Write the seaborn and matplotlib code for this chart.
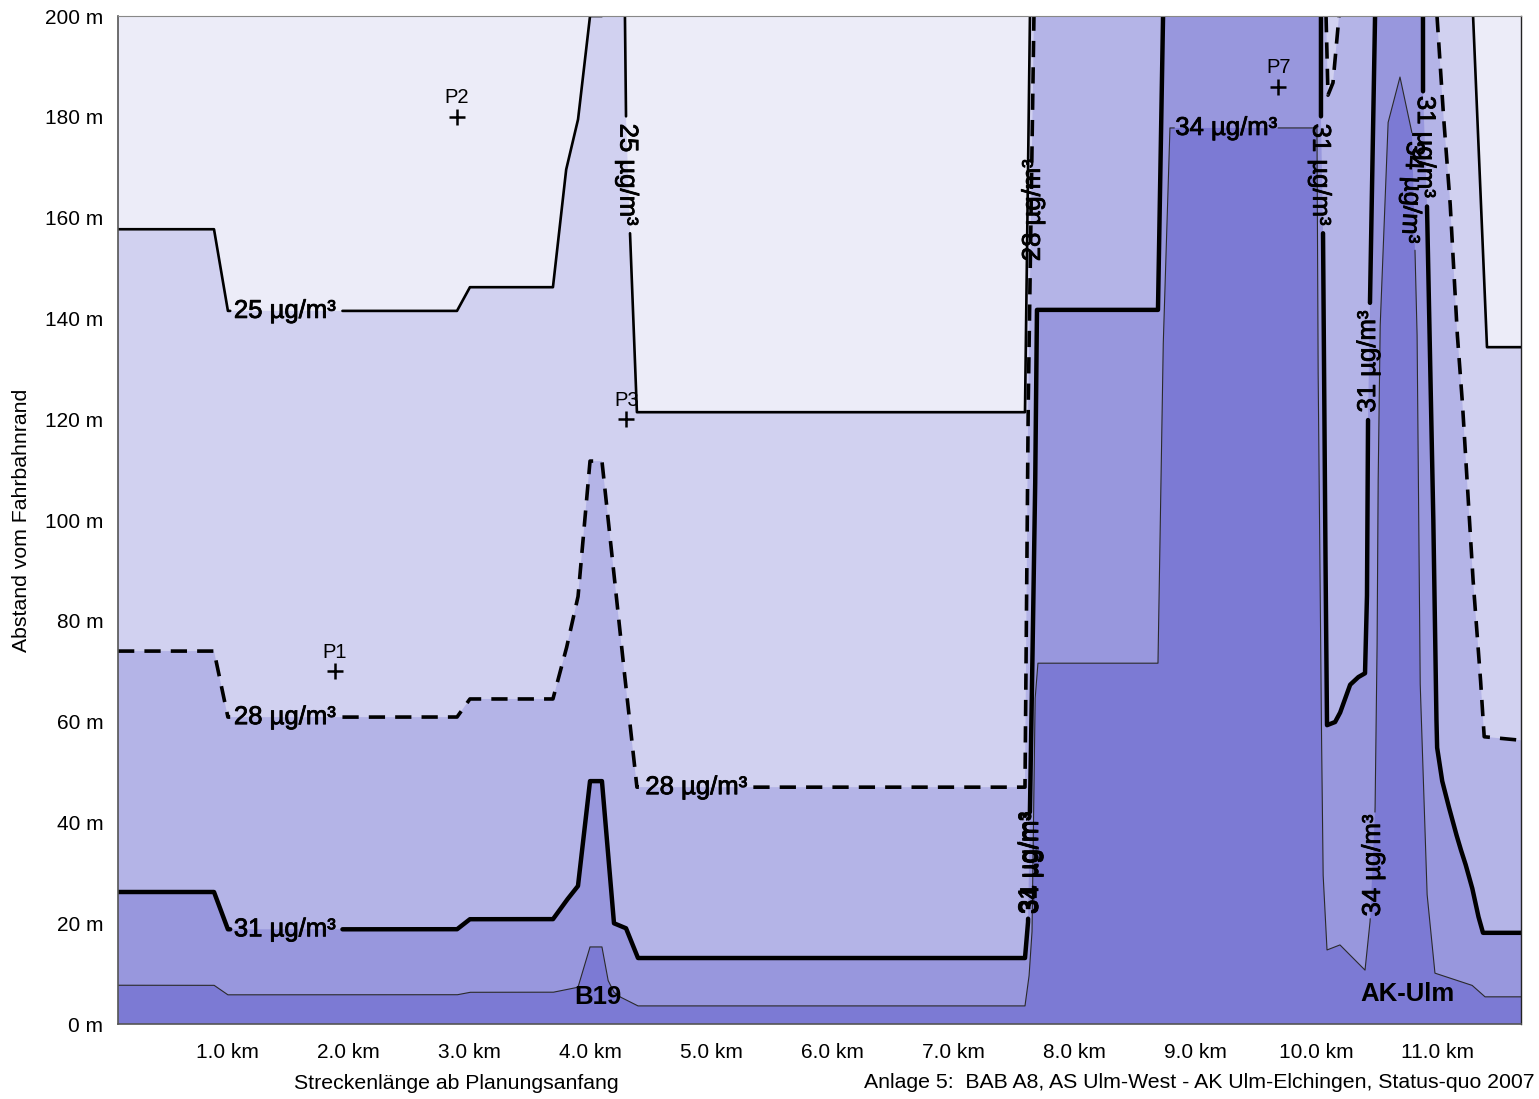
import numpy as np
import matplotlib
matplotlib.use("Agg")
import matplotlib.pyplot as plt
import matplotlib.patheffects as pe
import seaborn as sns
import pandas as pd

# --- Isolinien (Strecke in km, Abstand in m) ---
# 25 µg/m³
c25_x1 = [0.1, 0.893, 1.008, 2.901, 3.008, 3.694, 3.802, 3.901, 4.0, 4.099]
c25_y1 = [157.7, 157.7, 141.5, 141.5, 146.2, 146.2, 169.4, 179.4, 200, 200]
c25_x2 = [4.289, 4.298, 4.331, 4.388, 7.595, 7.636]
c25_y2 = [200, 180.0, 156.9, 121.4, 121.4, 200]
c25_x3 = [11.298, 11.413, 11.694]
c25_y3 = [200, 134.3, 134.3]

# 28 µg/m³
c28_x1 = [0.1, 0.893, 1.008, 2.901, 3.008, 3.694, 3.802, 3.901, 4.0, 4.099,
          4.182, 4.264, 4.388, 7.595, 7.62, 7.669]
c28_y1 = [74.0, 74.0, 60.9, 60.9, 64.5, 64.5, 74.2, 84.7, 111.7, 111.7,
          93.1, 74.2, 47.0, 47.0, 120, 200]
c28_x2 = [10.083, 10.099, 10.140, 10.190]
c28_y2 = [200, 184.3, 186.7, 200]
c28_x3 = [11.0, 11.05, 11.107, 11.165, 11.207, 11.248, 11.298, 11.355, 11.39, 11.694]
c28_y3 = [200, 181.3, 163.5, 137.7, 124.4, 107.9, 88.1, 70.0, 57.0, 56.3]

# 31 µg/m³
c31_x1 = [0.1, 0.893, 1.008, 2.901, 3.008, 3.694, 3.802, 3.901, 4.0, 4.099,
          4.198, 4.298, 4.397, 7.595, 7.62, 7.636, 7.678, 7.694, 8.694, 8.736]
c31_y1 = [26.2, 26.2, 18.8, 18.8, 20.8, 20.8, 24.4, 27.4, 48.2, 48.2,
          20.0, 19.0, 13.1, 13.1, 20.0, 42.5, 104, 141.7, 141.7, 200]
c31_x2 = [10.041, 10.041, 10.058, 10.074, 10.091, 10.157, 10.198, 10.281,
          10.347, 10.405, 10.421, 10.43, 10.446, 10.488]
c31_y2 = [200, 180, 156.9, 104, 59.3, 59.9, 61.7, 67.3,
          68.8, 69.6, 84.1, 120.2, 143.1, 200]
c31_x3 = [10.884, 10.884, 10.917, 10.967, 10.992, 11.0, 11.041, 11.083,
          11.149, 11.19, 11.231, 11.289, 11.339, 11.38, 11.694]
c31_y3 = [200, 185.3, 162.5, 104, 64.3, 55.0, 48.4, 44.4,
          38.5, 35.1, 32.1, 27.2, 21.6, 18.1, 18.1]

# 34 µg/m³
c34_x = [0.1, 0.893, 1.008, 2.901, 3.008, 3.694, 3.901, 4.0, 4.099, 4.149,
         4.198, 4.248, 4.397, 7.595, 7.628, 7.653, 7.678, 7.702, 8.694, 8.736,
         8.793, 10.008, 10.016, 10.041, 10.058, 10.091, 10.198, 10.405, 10.446,
         10.488, 10.504, 10.512, 10.529, 10.595, 10.694, 10.793, 10.835, 10.86,
         10.917, 10.983, 11.289, 11.397, 11.694]
c34_y = [7.7, 7.7, 5.8, 5.8, 6.3, 6.3, 7.3, 15.3, 15.3, 8.7,
         6.3, 5.4, 3.6, 3.6, 9.3, 18.1, 64.3, 71.6, 71.6, 133.7,
         177.8, 177.8, 133.7, 67.5, 30.0, 14.7, 15.7, 10.7, 20.0,
         42.5, 72.2, 104.6, 137.7, 178.8, 187.9, 176.8, 137.7, 68.3,
         26.0, 10.1, 7.7, 5.4, 5.4]

# Immissionsorte
punkt_namen = ["P1", "P2", "P3", "P7"]
punkt_km = [1.89, 2.90, 4.30, 9.69]
punkt_m = [70, 180, 120, 186]

# Beschriftungen der Isolinien: Text, x, y, Drehung
label_text = ["25 µg/m³", "28 µg/m³", "31 µg/m³", "28 µg/m³", "25 µg/m³",
              "28 µg/m³", "31 µg/m³", "34 µg/m³", "34 µg/m³", "31 µg/m³",
              "31 µg/m³", "34 µg/m³", "31 µg/m³", "34 µg/m³"]
label_x = [1.48, 1.48, 1.48, 4.88, 4.31, 7.66, 7.63, 7.645, 9.26, 10.035,
           10.43, 10.47, 10.90, 10.79]
label_y = [141.5, 60.9, 18.8, 47.0, 168.5, 161.5, 32, 32, 177.8, 168.5,
           131.5, 31.5, 174, 165]
label_rot = [0, 0, 0, 0, -90, 90, 90, 90, 0, -90, 90, 90, -90, -93]

farben = ["#ECECF8", "#D1D1F0", "#B4B4E7", "#9897DD", "#7C7AD4"]

sns.set_style("white")
plt.rcParams['font.family'] = ['Liberation Sans', 'DejaVu Sans']
plt.rcParams['text.color'] = 'black'
plt.rcParams['axes.labelcolor'] = 'black'


def dicht(xs, ys, n=200):
    xs = np.asarray(xs, float)
    ys = np.asarray(ys, float)
    ox, oy = [xs[0]], [ys[0]]
    t = np.linspace(0, 1, n + 1)[1:]
    for i in range(1, len(xs)):
        ox.extend(xs[i - 1] + t * (xs[i] - xs[i - 1]))
        oy.extend(ys[i - 1] + t * (ys[i] - ys[i - 1]))
    return np.array(ox), np.array(oy)


def linie(ax, xs, ys, luecken=(), **kw):
    X, Y = dicht(xs, ys)
    for (x0, x1, y0, y1) in luecken:
        innen = (X >= x0) & (X <= x1) & (Y >= y0) & (Y <= y1)
        Y[innen] = np.nan
    ax.plot(X, Y, zorder=3, **kw)


fig = plt.figure(figsize=(15.39, 10.99), dpi=100)
ax = fig.add_axes([0.0767, 0.0682, 0.9116, 0.9172])
ax.set_facecolor(farben[0])

# Flächen (Bereiche oberhalb der jeweiligen Konzentration)
x_min, x_max = 0.1, 11.694
flaechen = [
    (c25_x1 + c25_x2 + c25_x3, c25_y1 + c25_y2 + c25_y3),
    (c28_x1 + c28_x2 + c28_x3, c28_y1 + c28_y2 + c28_y3),
    (c31_x1 + c31_x2 + c31_x3, c31_y1 + c31_y2 + c31_y3),
    (c34_x, c34_y),
]
for (fx, fy), farbe in zip(flaechen, farben[1:]):
    ax.fill(fx + [x_max, x_min], fy + [0, 0], color=farbe, lw=0, zorder=1)

# Linien
st25 = dict(color="black", lw=1.9)
st28 = dict(color="black", lw=2.6, ls=(0, (4.5, 2.8)), dash_capstyle="butt")
st31 = dict(color="black", lw=3.2)
st34 = dict(color="#2a2a2a", lw=0.8)

linie(ax, c25_x1, c25_y1, [(1.03, 1.95, 130, 150)], **st25)
linie(ax, c25_x2, c25_y2, [(4.2, 4.4, 157, 180)], **st25)
linie(ax, c25_x3, c25_y3, **st25)
linie(ax, c28_x1, c28_y1, [(1.03, 1.95, 55, 67), (4.42, 5.35, 42, 52)], **st28)
linie(ax, c28_x2, c28_y2, **st28)
linie(ax, c28_x3, c28_y3, **st28)
linie(ax, c31_x1, c31_y1, [(1.03, 1.95, 14, 24), (7.55, 7.75, 21, 42)], **st31)
linie(ax, c31_x2, c31_y2, [(9.95, 10.1, 157, 180), (10.38, 10.48, 120, 143)], **st31)
linie(ax, c31_x3, c31_y3, [(10.85, 10.95, 162.5, 185)], **st31)
linie(ax, c34_x, c34_y, [(8.83, 9.68, 170, 185), (10.4, 10.55, 21, 42),
                         (10.75, 10.85, 153.6, 176.8)], **st34)

strich = [pe.withStroke(linewidth=0.6, foreground="black")]
for t, x, y, r in zip(label_text, label_x, label_y, label_rot):
    ax.text(x, y, t, rotation=r, ha="center", va="center", color="black",
            rotation_mode="anchor", fontsize=18.5, zorder=5, path_effects=strich)

# Punkte
df_p = pd.DataFrame({"km": punkt_km, "m": punkt_m, "name": punkt_namen})
sns.scatterplot(data=df_p, x="km", y="m", marker="+", s=120, color="black",
                linewidth=1.8, ax=ax, zorder=6, legend=False)
for _, r in df_p.iterrows():
    ax.annotate(r["name"], (r["km"], r["m"]), xytext=(0, 7),
                textcoords="offset points", ha="center", va="bottom", fontsize=14.5)

ax.text(4.066, 5.4, "B19", ha="center", va="center", fontsize=18.5,
        fontweight="bold", zorder=5)
ax.text(10.752, 6.0, "AK-Ulm", ha="center", va="center", fontsize=18.5,
        fontweight="bold", zorder=5)

ax.set_xlim(x_min, x_max)
ax.set_ylim(0, 200)
xt = list(range(1, 12))
ax.set_xticks(xt)
ax.set_xticklabels([f"{v:.1f} km" for v in xt])
yt = list(range(0, 201, 20))
ax.set_yticks(yt)
ax.set_yticklabels([f"{v} m" for v in yt])
ax.tick_params(axis="both", direction="out", length=8.6, width=1,
               color="#777777", labelsize=15, pad=2, labelcolor="black")
ax.tick_params(axis="x", pad=5)
ax.grid(False)

for s in ["left", "bottom"]:
    ax.spines[s].set_color("#555555")
    ax.spines[s].set_linewidth(1.2)
ax.spines["top"].set_color("#888888")
ax.spines["top"].set_linewidth(0.8)
ax.spines["right"].set_color("#222222")
ax.spines["right"].set_linewidth(1.0)
for s in ax.spines.values():
    s.set_zorder(7)

ax.set_xlabel("Streckenlänge ab Planungsanfang", fontsize=15.3)
ax.xaxis.set_label_coords(0.241, -0.05)
ax.set_ylabel("Abstand vom Fahrbahnrand", fontsize=15.3)
ax.yaxis.set_label_coords(-0.062, 0.5)

fig.text(0.997, (1099 - 1083) / 1099,
         "Anlage 5:  BAB A8, AS Ulm-West - AK Ulm-Elchingen, Status-quo 2007",
         ha="right", va="center", fontsize=15.3)

fig.savefig("out.png", dpi=100)
